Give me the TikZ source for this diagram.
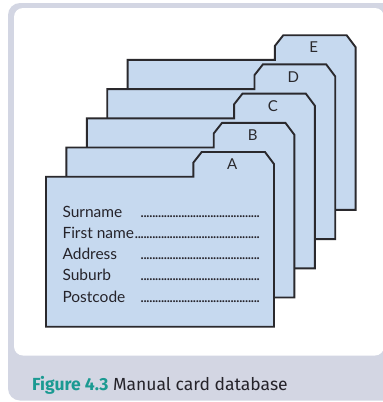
\documentclass[tikz,border=0pt]{standalone}
\usepackage{fontspec}
\setmainfont{Lato}
\newfontfamily\capfont{Fira Sans}
\definecolor{framegrey}{HTML}{D3D6E3}
\definecolor{cardblue}{HTML}{C6D9EF}
\definecolor{cardedge}{HTML}{2A292D}
\definecolor{figteal}{HTML}{1B9A92}
\definecolor{captext}{HTML}{25232A}
\newcommand\cardleader{\leaders\hbox to 2.9pt{\hss.\hss}\hfill\kern0pt}
\tikzset{
  cardshape/.style={fill=cardblue, draw=cardedge, line width=1.9pt, line join=miter},
  tablabel/.style={font=\fontsize{15}{15}\selectfont, text=cardedge, inner sep=0pt},
  fieldtext/.style={font=\fontsize{15.5}{21.2}\selectfont, text=captext, anchor=base west, inner sep=0pt},
  captiontext/.style={font=\capfont\fontsize{17.5}{20}\selectfont, anchor=base west, inner sep=0pt}
}
\begin{document}
\begin{tikzpicture}[x=1pt,y=-1pt]
\useasboundingbox (0,0) rectangle (383,402);
% panel: grey frame with white drawing area
\fill[framegrey, rounded corners=12pt] (8,3) rectangle (396,400.5);
\fill[white, rounded corners=9pt] (14,8) rectangle (384,355.5);
% index cards, back (E) to front (A)
\foreach \i/\L in {4/E,3/D,2/C,1/B,0/A}{
  \begin{scope}[shift={(20.4*\i,-29.2*\i)}]
    \draw[cardshape] (46,176.7) -- (193.3,176.7) -- (193.3,162.7) -- (201.7,152)
      -- (265,152) -- (274,164) -- (274,326.7) -- (46,326.7) -- cycle;
    \node[tablabel] (tab\L) at (232.2,164.3) {\L};
  \end{scope}
}
% record fields on the front card
\node[fieldtext] (fields) at (62.3,217.3) {\parbox[t]{199pt}{%
  \makebox[76pt][l]{Surname}\cardleader\par
  First name\cardleader\par
  \makebox[76pt][l]{Address}\cardleader\par
  \makebox[76pt][l]{Suburb}\cardleader\par
  \makebox[76pt][l]{Postcode}\cardleader}};
% caption
\node[captiontext] (caption) at (32,390)
  {\textcolor{figteal}{\bfseries Figure 4.3} \textcolor{captext}{Manual card database}};
\end{tikzpicture}
\end{document}
